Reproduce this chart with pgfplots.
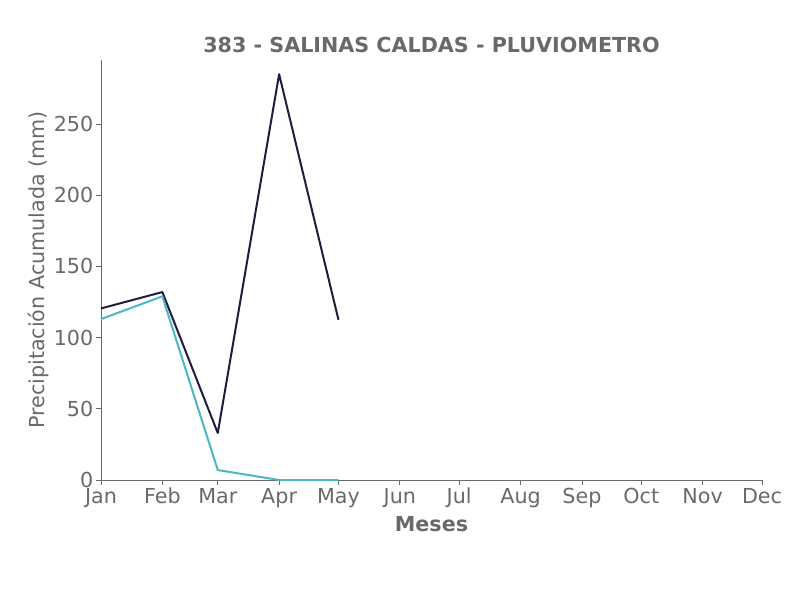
\documentclass[border=0pt]{standalone}
\usepackage{pgfplots}
\pgfplotsset{compat=1.18}
\usepackage{fontspec}
\setmainfont{DejaVu Sans}
\definecolor{txtgray}{HTML}{696969}
\definecolor{navy}{HTML}{1F1D3F}
\definecolor{teal}{HTML}{4DB6C1}
\begin{document}
\begin{tikzpicture}[x=0.75pt,y=0.75pt]
\path[use as bounding box] (0,0) rectangle (806,600);
\begin{axis}[
  at={(101*0.75pt,120*0.75pt)}, anchor=origin,
  scale only axis, width=661*0.75pt, height=420*0.75pt,
  xmin=0, xmax=334, ymin=0, ymax=295,
  axis x line*=bottom, axis y line*=left,
  axis line style={txtgray, line width=0.6pt, -},
  xtick={0,31,59,90,120,151,181,212,243,273,304,334},
  xticklabels={Jan,Feb,Mar,Apr,May,Jun,Jul,Aug,Sep,Oct,Nov,Dec},
  ytick={0,50,100,150,200,250},
  tick align=outside, major tick length=3.6pt,
  tick style={txtgray, line width=0.6pt},
  ticklabel style={font=\fontsize{15.5}{18}\selectfont, text=txtgray},
  xticklabel style={anchor=base, yshift=-14pt},
  yticklabel style={inner sep=2pt},
  /pgf/number format/assume math mode=true,
  xlabel={\textbf{Meses}}, ylabel={Precipitación Acumulada (mm)},
  label style={font=\fontsize{15.5}{18}\selectfont, text=txtgray},
  xlabel style={yshift=0pt},
  ylabel style={yshift=-2pt},
  title={\textbf{383 - SALINAS CALDAS - PLUVIOMETRO}},
  title style={font=\fontsize{15.5}{18}\selectfont, text=txtgray, yshift=-4pt},
  clip=false,
]
\addplot[navy, line width=1.5pt, line join=round] coordinates {(0,120.5) (31,132) (59,33) (90,285) (120,112.5)};
\addplot[teal, line width=1.5pt, line join=round] coordinates {(0,113) (31,129) (59,7) (90,0) (120,0)};
\end{axis}
\end{tikzpicture}
\end{document}
